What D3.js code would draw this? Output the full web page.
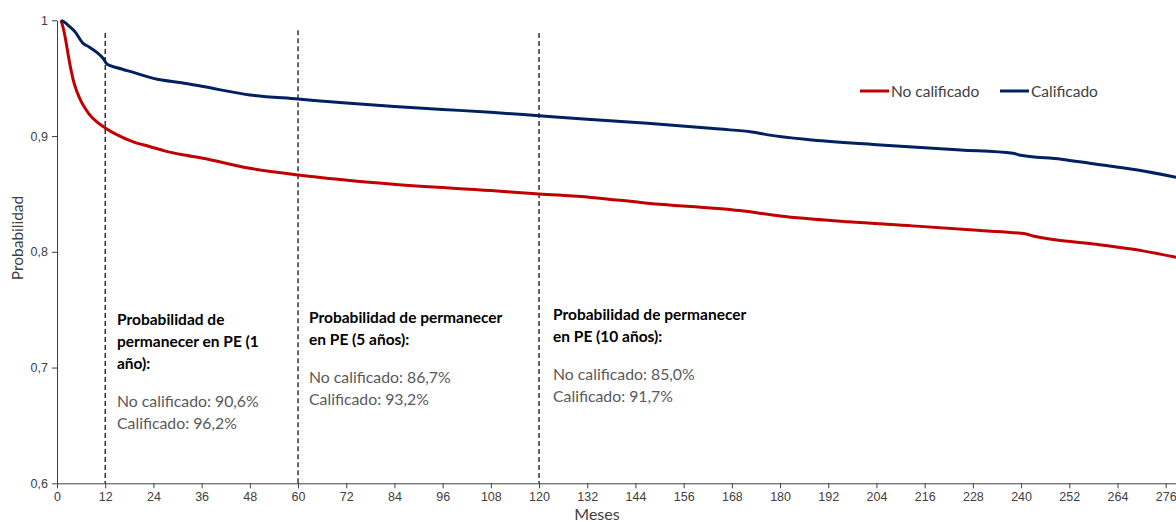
<!DOCTYPE html>
<html>
<head>
<meta charset="utf-8">
<script src="https://cdn.jsdelivr.net/npm/d3@7"></script>
<style>
  body { margin: 0; background: #fff; }
  svg { font-family: Lato, "Open Sans", sans-serif; }
  .tick text { fill: #404040; font-size: 12.5px; }
  .domain, .tick line { stroke: #404040; }
</style>
</head>
<body>
<div class="graphHolder"></div>
<script>
let w = 1176,
  h = 522;

// series: months and survival probability
let blueMonths = [1, 2, 3, 4.5, 6.5, 8, 10, 11.5, 12.5, 15, 19, 25, 31, 36, 48, 60, 72, 84, 96, 108, 120, 132, 147, 165, 173, 177, 188, 205, 225, 238, 239.5, 250, 258, 269, 278.6];
let blueValues = [1.0, 0.998, 0.995, 0.99, 0.98, 0.977, 0.972, 0.967, 0.962, 0.959, 0.955, 0.949, 0.946, 0.943, 0.9355, 0.932, 0.9285, 0.9255, 0.923, 0.9205, 0.9175, 0.9145, 0.911, 0.906, 0.9035, 0.901, 0.8966, 0.8923, 0.888, 0.8851, 0.8837, 0.88, 0.876, 0.8707, 0.8644];

let redMonths = [1, 1.5, 2, 2.5, 3, 3.5, 4, 5, 6, 7, 8, 10, 12, 15, 19, 23, 27, 31, 36, 48, 60, 83, 108, 120, 133, 147, 170, 180, 197, 213, 230, 241, 243, 258, 270, 278.6];
let redValues = [1.0, 0.994, 0.986, 0.976, 0.966, 0.957, 0.949, 0.938, 0.93, 0.924, 0.919, 0.912, 0.907, 0.901, 0.895, 0.891, 0.887, 0.884, 0.881, 0.8722, 0.8664, 0.8586, 0.8529, 0.85, 0.847, 0.842, 0.8356, 0.831, 0.826, 0.8224, 0.8183, 0.8155, 0.8137, 0.8068, 0.801, 0.7953];

let seriesNames = ["No calificado", "Calificado"];
let seriesColors = ["#c00000", "#002060"];

let xTicks = d3.range(0, 277, 12);
let yTicks = [0.6, 0.7, 0.8, 0.9, 1];

// dashed markers at 1, 5 and 10 years
let markerMonths = [12, 60, 120];
let markerTops = [0.989, 0.9915, 0.989];

let notesTitle = [
  ["Probabilidad de", "permanecer en PE (1", "año):"],
  ["Probabilidad de permanecer", "en PE (5 años):"],
  ["Probabilidad de permanecer", "en PE (10 años):"]
];
let notesBody = [
  ["No calificado: 90,6%", "Calificado: 96,2%"],
  ["No calificado: 86,7%", "Calificado: 93,2%"],
  ["No calificado: 85,0%", "Calificado: 91,7%"]
];

let svg = d3.select(".graphHolder")
  .append("svg")
  .attr("width", w)
  .attr("height", h);

let xScale = d3.scaleLinear()
  .domain([0, 280])
  .range([57, 57 + 280 * 4.017]);

let yScale = d3.scaleLinear()
  .domain([0.6, 1])
  .range([483.3, 20.3]);

// axes
svg.append("g")
  .attr("transform", "translate(0," + yScale(0.6) + ")")
  .call(d3.axisBottom(xScale).tickValues(xTicks).tickSize(5).tickSizeOuter(0).tickPadding(4));

svg.append("g")
  .attr("transform", "translate(" + xScale(0) + ",0)")
  .call(d3.axisLeft(yScale).tickValues(yTicks).tickSize(5).tickSizeOuter(0).tickPadding(4)
    .tickFormat(d => d === 1 ? "1" : d3.format(".1f")(d).replace(".", ",")));

svg.append("text")
  .attr("x", 597)
  .attr("y", 520)
  .attr("text-anchor", "middle")
  .attr("font-size", 16)
  .attr("fill", "#404040")
  .text("Meses");

svg.append("text")
  .attr("transform", "rotate(-90)")
  .attr("x", -238)
  .attr("y", 23)
  .attr("text-anchor", "middle")
  .attr("font-size", 15.5)
  .attr("fill", "#404040")
  .text("Probabilidad");

// dashed verticals
svg.selectAll(".marker")
  .data(markerMonths)
  .enter()
  .append("line")
  .attr("class", "marker")
  .attr("x1", d => xScale(d))
  .attr("x2", d => xScale(d))
  .attr("y1", (d, i) => yScale(markerTops[i]))
  .attr("y2", yScale(0.6))
  .attr("stroke", "#000")
  .attr("stroke-width", 1.2)
  .attr("stroke-dasharray", "5,3");

// curves
let line = d3.line()
  .x(d => xScale(d[0]))
  .y(d => yScale(d[1]))
  .curve(d3.curveMonotoneX);

let redData = redMonths.map((m, i) => [m, redValues[i]]);
let blueData = blueMonths.map((m, i) => [m, blueValues[i]]);

[redData, blueData].forEach((d, i) => {
  svg.append("path")
    .datum(d)
    .attr("fill", "none")
    .attr("stroke", seriesColors[i])
    .attr("stroke-width", 3)
    .attr("stroke-linejoin", "round")
    .attr("d", line);
});

// legend
let legendX = [860, 1000];
seriesNames.forEach((name, i) => {
  svg.append("line")
    .attr("x1", legendX[i])
    .attr("x2", legendX[i] + 29)
    .attr("y1", 91)
    .attr("y2", 91)
    .attr("stroke", seriesColors[i])
    .attr("stroke-width", 3);
  svg.append("text")
    .attr("x", legendX[i] + 31)
    .attr("y", 96.5)
    .attr("font-size", 15.5)
    .attr("fill", "#404040")
    .text(name);
});

// annotation boxes
let noteX = [117, 309, 553];
let noteY = [325, 323, 320];
notesTitle.forEach((lines, i) => {
  let t = svg.append("text")
    .attr("font-size", 15.5)
    .attr("font-weight", "bold")
    .attr("fill", "#000");
  lines.forEach((s, j) => {
    t.append("tspan")
      .attr("x", noteX[i])
      .attr("y", noteY[i] + j * 22)
      .text(s);
  });
  let b = svg.append("text")
    .attr("font-size", 15.8)
    .attr("fill", "#595959");
  notesBody[i].forEach((s, j) => {
    b.append("tspan")
      .attr("x", noteX[i])
      .attr("y", noteY[i] + lines.length * 22 + 16 + j * 22)
      .text(s);
  });
});
</script>
</body>
</html>
